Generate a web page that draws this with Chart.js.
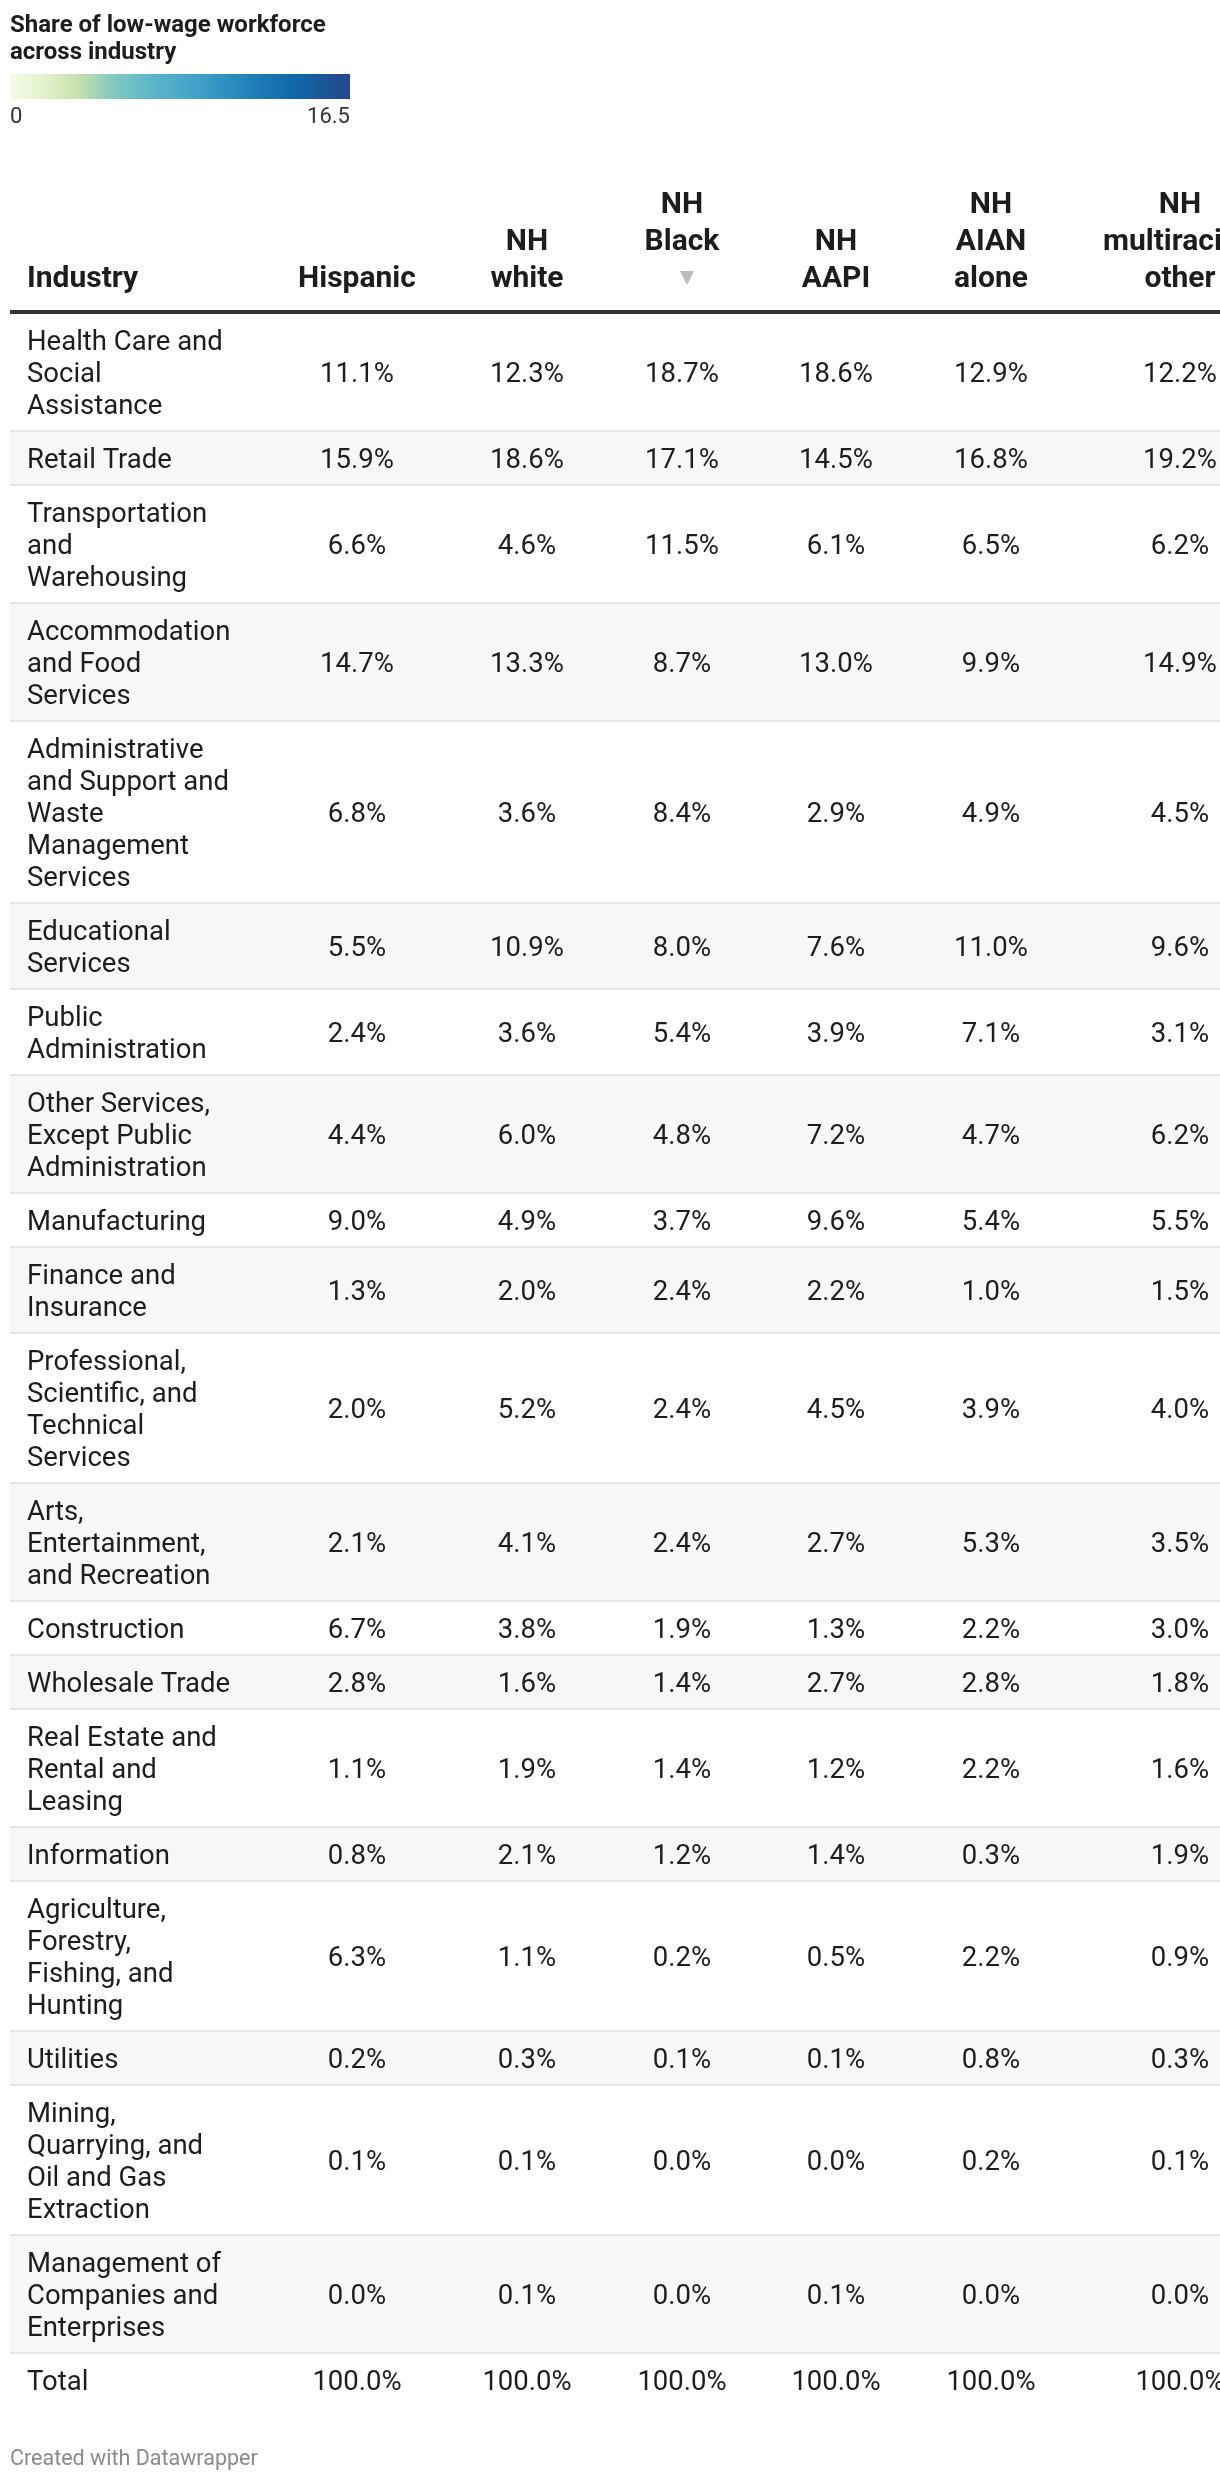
<!DOCTYPE html>
<html lang="en">
<head>
  <meta charset="UTF-8">
  <title>Share of low-wage workforce across industry</title>
  <script src="https://cdn.jsdelivr.net/npm/chart.js"></script>
  <style>
    body {
      margin: 0;
      background: #fff;
      font-family: Roboto, sans-serif;
      color: #1d1d1d;
    }
    .page {
      position: relative;
      width: 1220px;
      height: 2482px;
      overflow: hidden;
    }
    #table {
      position: absolute;
      left: 0;
      top: 0;
    }
    .title {
      position: absolute;
      left: 10px;
      top: 11px;
      font-weight: 700;
      font-size: 24px;
      line-height: 27px;
    }
    .scale-bar {
      position: absolute;
      left: 10px;
      top: 74px;
      width: 340px;
      height: 25px;
      background: linear-gradient(to right, #f7fbe9 0%, #e3f1cc 10%, #c6e2ad 20%, #84cabf 30%, #5bb5c9 42%, #3b9cc6 58%, #1f7db7 72%, #0f69ab 83%, #27458b 100%);
    }
    .scale-label {
      position: absolute;
      top: 104px;
      font-size: 22px;
      line-height: 24px;
      color: #333;
    }
    .credit {
      position: absolute;
      left: 10px;
      top: 2446px;
      font-size: 21.5px;
      line-height: 24px;
      color: #8a8a8a;
    }
  </style>
</head>
<body>
<div class="page">
  <canvas id="table" width="1220" height="2482"></canvas>
  <div class="title">Share of low-wage workforce<br>across industry</div>
  <div class="scale-bar"></div>
  <div class="scale-label" style="left:10px">0</div>
  <div class="scale-label" style="left:10px;width:340px;text-align:right">16.5</div>
  <div class="credit">Created with Datawrapper</div>
</div>

<script>
  // --- data ---
  const industries = [
    'Health Care and\nSocial\nAssistance',
    'Retail Trade',
    'Transportation\nand\nWarehousing',
    'Accommodation\nand Food\nServices',
    'Administrative\nand Support and\nWaste\nManagement\nServices',
    'Educational\nServices',
    'Public\nAdministration',
    'Other Services,\nExcept Public\nAdministration',
    'Manufacturing',
    'Finance and\nInsurance',
    'Professional,\nScientific, and\nTechnical\nServices',
    'Arts,\nEntertainment,\nand Recreation',
    'Construction',
    'Wholesale Trade',
    'Real Estate and\nRental and\nLeasing',
    'Information',
    'Agriculture,\nForestry,\nFishing, and\nHunting',
    'Utilities',
    'Mining,\nQuarrying, and\nOil and Gas\nExtraction',
    'Management of\nCompanies and\nEnterprises',
    'Total'
  ];

  const columnHeaders = ['Industry', 'Hispanic', 'NH\nwhite', 'NH\nBlack', 'NH\nAAPI', 'NH\nAIAN\nalone', 'NH\nmultiracial/\nother'];
  const sortedColumn = 3;

  const hispanic = [11.1, 15.9, 6.6, 14.7, 6.8, 5.5, 2.4, 4.4, 9.0, 1.3, 2.0, 2.1, 6.7, 2.8, 1.1, 0.8, 6.3, 0.2, 0.1, 0.0, 100.0];
  const nhWhite  = [12.3, 18.6, 4.6, 13.3, 3.6, 10.9, 3.6, 6.0, 4.9, 2.0, 5.2, 4.1, 3.8, 1.6, 1.9, 2.1, 1.1, 0.3, 0.1, 0.1, 100.0];
  const nhBlack  = [18.7, 17.1, 11.5, 8.7, 8.4, 8.0, 5.4, 4.8, 3.7, 2.4, 2.4, 2.4, 1.9, 1.4, 1.4, 1.2, 0.2, 0.1, 0.0, 0.0, 100.0];
  const nhAapi   = [18.6, 14.5, 6.1, 13.0, 2.9, 7.6, 3.9, 7.2, 9.6, 2.2, 4.5, 2.7, 1.3, 2.7, 1.2, 1.4, 0.5, 0.1, 0.0, 0.1, 100.0];
  const nhAian   = [12.9, 16.8, 6.5, 9.9, 4.9, 11.0, 7.1, 4.7, 5.4, 1.0, 3.9, 5.3, 2.2, 2.8, 2.2, 0.3, 2.2, 0.8, 0.2, 0.0, 100.0];
  const nhMulti  = [12.2, 19.2, 6.2, 14.9, 4.5, 9.6, 3.1, 6.2, 5.5, 1.5, 4.0, 3.5, 3.0, 1.8, 1.6, 1.9, 0.9, 0.3, 0.1, 0.0, 100.0];

  const valueColumns = [hispanic, nhWhite, nhBlack, nhAapi, nhAian, nhMulti];

  // --- layout (page pixels) ---
  const W = 1220, H = 2482;
  const tableLeft = 10;
  const textLeft = 27;
  const colCenters = [357, 527, 682, 836, 991, 1180];
  const headerBase = 287, headerLine = 37;
  const ruleTop = 310, ruleH = 4;
  const bodyTop = 314, rowPad = 22, lineH = 32, sepH = 2, capOff = 9.7;
  const bodyFont = '27.5px Roboto, sans-serif';
  const headFont = 'bold 30px Roboto, sans-serif';
  const ink = '#1d1d1d';

  // row tops / heights from the number of label lines
  const rowLines = industries.map(s => s.split('\n').length);
  const rowTops = [];
  let acc = bodyTop;
  rowLines.forEach(n => { rowTops.push(acc); acc += rowPad + n * lineH; });
  const rowPitch = i => rowPad + rowLines[i] * lineH;
  const rowCenter = i => rowTops[i] + (rowPitch(i) - sepH) / 2;

  const datasets = [{
    label: 'Industry',
    data: industries.map((s, i) => ({ x: textLeft, y: rowCenter(i), text: s, align: 'left' })),
    pointRadius: 0
  }];
  valueColumns.forEach((vals, c) => {
    datasets.push({
      label: columnHeaders[c + 1],
      data: vals.map((v, i) => ({ x: colCenters[c], y: rowCenter(i), text: v.toFixed(1) + '%', align: 'center' })),
      pointRadius: 0
    });
  });

  const tablePlugin = {
    id: 'tableDraw',
    beforeDatasetsDraw(chart) {
      const { ctx, scales: { x, y } } = chart;
      ctx.save();
      // stripes and separators
      industries.forEach((_, i) => {
        const top = y.getPixelForValue(rowTops[i]);
        const bot = y.getPixelForValue(rowTops[i] + rowPitch(i) - sepH);
        if (i % 2 === 1) {
          ctx.fillStyle = '#f7f7f7';
          ctx.fillRect(x.getPixelForValue(tableLeft), top, W, bot - top);
        }
        if (i < industries.length - 1) {
          ctx.fillStyle = '#e6e6e6';
          ctx.fillRect(x.getPixelForValue(tableLeft), bot, W, sepH);
        }
      });
      // header rule
      ctx.fillStyle = '#333';
      ctx.fillRect(x.getPixelForValue(tableLeft), y.getPixelForValue(ruleTop), W, ruleH);
      // header labels
      ctx.font = headFont;
      ctx.fillStyle = ink;
      ctx.textBaseline = 'alphabetic';
      columnHeaders.forEach((h, c) => {
        const lines = h.split('\n');
        const extra = c === sortedColumn ? 1 : 0;
        const cx = c === 0 ? textLeft : colCenters[c - 1];
        ctx.textAlign = c === 0 ? 'left' : 'center';
        lines.forEach((ln, k) => {
          const base = headerBase - (lines.length - 1 - k + extra) * headerLine;
          ctx.fillText(ln, x.getPixelForValue(cx), y.getPixelForValue(base));
        });
        if (extra) {
          const tx = x.getPixelForValue(cx + 5);
          const ty = y.getPixelForValue(headerBase - 16);
          ctx.fillStyle = '#bbbbbb';
          ctx.beginPath();
          ctx.moveTo(tx - 7, ty);
          ctx.lineTo(tx + 7, ty);
          ctx.lineTo(tx, ty + 14);
          ctx.closePath();
          ctx.fill();
          ctx.fillStyle = ink;
        }
      });
      ctx.restore();
    },
    afterDatasetsDraw(chart) {
      const { ctx } = chart;
      ctx.save();
      ctx.font = bodyFont;
      ctx.fillStyle = ink;
      ctx.textBaseline = 'alphabetic';
      chart.data.datasets.forEach((ds, d) => {
        const meta = chart.getDatasetMeta(d);
        meta.data.forEach((pt, i) => {
          const item = ds.data[i];
          const lines = item.text.split('\n');
          ctx.textAlign = item.align;
          lines.forEach((ln, k) => {
            const off = (k - (lines.length - 1) / 2) * lineH;
            ctx.fillText(ln, pt.x, pt.y + off + capOff);
          });
        });
      });
      ctx.restore();
    }
  };

  new Chart(document.getElementById('table'), {
    type: 'scatter',
    data: { datasets },
    options: {
      responsive: false,
      animation: false,
      devicePixelRatio: 1,
      layout: { padding: 0 },
      scales: {
        x: { type: 'linear', display: false, min: 0, max: W },
        y: { type: 'linear', display: false, min: 0, max: H, reverse: true }
      },
      plugins: {
        legend: { display: false },
        tooltip: { enabled: false }
      }
    },
    plugins: [tablePlugin]
  });
</script>
</body>
</html>
